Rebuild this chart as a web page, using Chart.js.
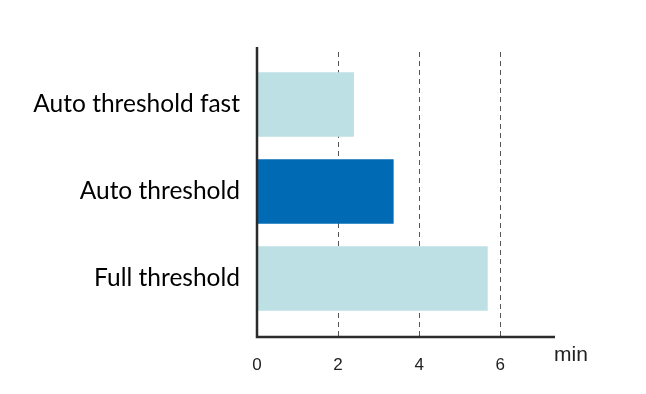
<!DOCTYPE html>
<html>
<head>
<meta charset="utf-8">
<script src="https://cdn.jsdelivr.net/npm/chart.js@4"></script>
<style>
  html, body { margin: 0; padding: 0; background: #fff; }
  #wrap { width: 646px; height: 394px; }
</style>
</head>
<body>
<div id="wrap"><canvas id="mychart"></canvas></div>
<script>
const categories = ["Auto threshold fast", "Auto threshold", "Full threshold"];
const minutes = [2.39, 3.37, 5.69];
const barColors = ["#bce0e3", "#006ab5", "#bce0e3"];
const xTicks = [0, 2, 4, 6];
const xUnit = "min";

// dashed grid, axis lines and unit label, drawn from the scales
const axesPlugin = {
  id: "axesPlugin",
  beforeDatasetsDraw(chart) {
    const ctx = chart.ctx;
    const x = chart.scales.x;
    const area = chart.chartArea;
    ctx.save();
    ctx.strokeStyle = "#555";
    ctx.lineWidth = 1;
    ctx.setLineDash([5, 4]);
    xTicks.slice(1).forEach(v => {
      const px = Math.round(x.getPixelForValue(v)) + 0.5;
      ctx.beginPath();
      ctx.moveTo(px, area.top - 9);
      ctx.lineTo(px, area.bottom + 15);
      ctx.stroke();
    });
    ctx.restore();
  },
  afterDatasetsDraw(chart) {
    const ctx = chart.ctx;
    const x = chart.scales.x;
    const area = chart.chartArea;
    const x0 = x.getPixelForValue(0);
    ctx.save();
    ctx.strokeStyle = "#2b2b2b";
    ctx.lineWidth = 2.5;
    ctx.beginPath();
    ctx.moveTo(x0, area.top - 14);
    ctx.lineTo(x0, area.bottom + 15);
    ctx.lineTo(area.right, area.bottom + 15);
    ctx.stroke();
    ctx.fillStyle = "#222";
    ctx.font = "21px 'Liberation Sans', Arial, sans-serif";
    ctx.textAlign = "left";
    ctx.textBaseline = "middle";
    ctx.fillText(xUnit, area.right - 1, area.bottom + 33);
    ctx.restore();
  }
};

new Chart("mychart", {
  type: "bar",
  data: {
    labels: categories,
    datasets: [{
      data: minutes,
      backgroundColor: barColors,
      borderWidth: 0,
      barPercentage: 0.74,
      categoryPercentage: 1
    }]
  },
  options: {
    indexAxis: "y",
    responsive: true,
    maintainAspectRatio: false,
    animation: false,
    layout: { padding: { top: 61, right: 91, left: 0, bottom: 0 } },
    plugins: {
      legend: { display: false },
      tooltip: { enabled: false }
    },
    scales: {
      x: {
        min: 0,
        max: 7.35,
        grid: { display: false },
        border: { display: false },
        afterFit(scale) { scale.height = 72; },
        afterBuildTicks(scale) {
          scale.ticks = xTicks.map(v => ({ value: v }));
        },
        ticks: {
          padding: 25,
          color: "#222",
          font: { family: "'Liberation Sans', Arial, sans-serif", size: 17 }
        }
      },
      y: {
        grid: { display: false },
        border: { display: false },
        afterFit(scale) { scale.width = 257; },
        ticks: {
          padding: 9,
          color: "#000",
          font: { family: "Lato, 'Open Sans', sans-serif", size: 24.5 }
        }
      }
    }
  },
  plugins: [axesPlugin]
});
</script>
</body>
</html>
